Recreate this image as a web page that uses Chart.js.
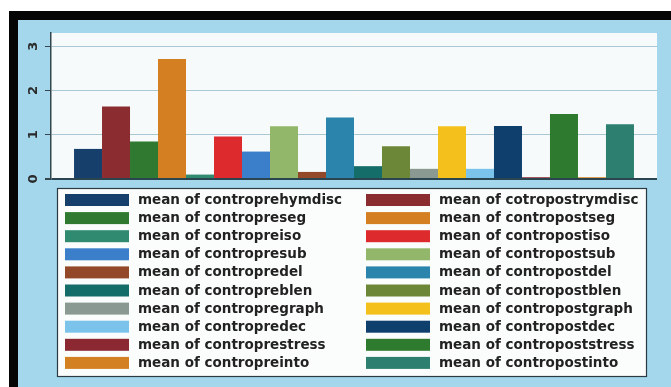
<!DOCTYPE html>
<html>
<head>
<meta charset="utf-8">
<script src="https://cdn.jsdelivr.net/npm/chart.js@4.4.1/dist/chart.umd.min.js"></script>
<style>
  html, body { margin: 0; padding: 0; background: #fff; }
  #wrap { width: 671px; height: 387px; }
</style>
</head>
<body>
<div id="wrap"><canvas id="chart" width="671" height="387"></canvas></div>
<script>
// one group, twenty bars (pre / post pairs)
const categories = [''];
const seriesNames = [
    'mean of controprehymdisc', 'mean of cotropostrymdisc',
    'mean of contropreseg', 'mean of contropostseg',
    'mean of contropreiso', 'mean of contropostiso',
    'mean of contropresub', 'mean of contropostsub',
    'mean of contropredel', 'mean of contropostdel',
    'mean of contropreblen', 'mean of contropostblen',
    'mean of contropregraph', 'mean of contropostgraph',
    'mean of contropredec', 'mean of contropostdec',
    'mean of controprestress', 'mean of contropoststress',
    'mean of contropreinto', 'mean of contropostinto'
];
const seriesValues = [
    0.68, 1.64,
    0.85, 2.71,
    0.10, 0.96,
    0.62, 1.19,
    0.16, 1.39,
    0.29, 0.74,
    0.23, 1.19,
    0.23, 1.20,
    0.04, 1.47,
    0.04, 1.24
];
const seriesColors = [
    '#173f6b', '#8a2c30',
    '#2f7a30', '#d47f22',
    '#2f8a70', '#dd2a2c',
    '#3b7fca', '#93b76a',
    '#94482a', '#2a84ac',
    '#156d6a', '#6c8737',
    '#8a9a92', '#f4c01c',
    '#7cc3ec', '#0f3f6d',
    '#8c2832', '#2e7a2f',
    '#d38022', '#2d7f6f'
];
const yTicks = [0, 1, 2, 3];

const backdrop = {
    id: 'backdrop',
    beforeDraw(chart) {
        const { ctx, chartArea: a } = chart;
        ctx.save();
        ctx.fillStyle = '#ffffff';
        ctx.fillRect(0, 0, chart.width, chart.height);
        ctx.fillStyle = '#050505';
        ctx.fillRect(9, 11, chart.width - 9, 9);
        ctx.fillRect(9, 11, 9, chart.height - 11);
        ctx.fillStyle = '#a4d7ec';
        ctx.fillRect(18, 20, chart.width - 18, chart.height - 20);
        ctx.fillStyle = '#f7fafb';
        ctx.fillRect(a.left, a.top, a.right - a.left, a.bottom - a.top);
        ctx.restore();
    }
};

// two-column legend like the Stata one
const boxLegend = {
    id: 'boxLegend',
    afterDraw(chart) {
        const ctx = chart.ctx;
        ctx.save();
        ctx.fillStyle = '#fbfdfd';
        ctx.fillRect(57, 188, 589, 188);
        ctx.strokeStyle = '#2a3a40';
        ctx.lineWidth = 1.2;
        ctx.strokeRect(57.5, 188.5, 589, 188);
        ctx.font = 'bold 13.5px "DejaVu Sans"';
        ctx.textBaseline = 'middle';
        chart.data.datasets.forEach((ds, i) => {
            const col = i % 2;
            const row = Math.floor(i / 2);
            const x = col ? 366 : 65;
            const y = 200 + row * 18.1;
            ctx.fillStyle = ds.backgroundColor;
            ctx.fillRect(x, y - 6, 64, 12);
            ctx.fillStyle = '#222222';
            ctx.fillText(ds.label, x + 73, y + 0.5);
        });
        ctx.restore();
    }
};

new Chart(document.getElementById('chart'), {
    type: 'bar',
    data: {
        labels: categories,
        datasets: seriesNames.map((name, i) => ({
            label: name,
            data: [seriesValues[i]],
            backgroundColor: seriesColors[i],
            borderWidth: 0,
            categoryPercentage: 0.924,
            barPercentage: 1
        }))
    },
    options: {
        responsive: false,
        animation: false,
        layout: { padding: { left: 18, top: 33, right: 14, bottom: 208 } },
        plugins: {
            legend: { display: false },
            tooltip: { enabled: false }
        },
        scales: {
            x: { display: false },
            y: {
                min: 0,
                max: 3.3,
                afterFit: s => { s.width = 33; },
                afterBuildTicks: s => { s.ticks = yTicks.map(v => ({ value: v })); },
                border: { display: true, color: '#34464d', width: 1.5 },
                grid: {
                    color: c => (c.tick && c.tick.value === 0) ? '#2a4550' : '#a9c8d4',
                    lineWidth: c => (c.tick && c.tick.value === 0) ? 2 : 1,
                    tickColor: '#34464d',
                    tickLength: 6
                },
                ticks: {
                    minRotation: 90,
                    maxRotation: 90,
                    crossAlign: 'center',
                    padding: 7,
                    color: '#2a2a2a',
                    font: { family: 'DejaVu Sans', size: 13, weight: 'bold' }
                }
            }
        }
    },
    plugins: [backdrop, boxLegend]
});
</script>
</body>
</html>
